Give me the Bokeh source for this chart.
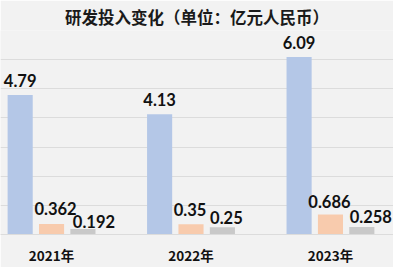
from bokeh.plotting import figure
from bokeh.models import Range1d, FixedTicker, ColumnDataSource
from bokeh.core.properties import value
from bokeh.embed import file_html
from bokeh.resources import INLINE

years = ["2021年", "2022年", "2023年"]
series_a = [4.79, 4.13, 6.09]
series_b = [0.362, 0.35, 0.686]
series_c = [0.192, 0.25, 0.258]
labels_a = ["4.79", "4.13", "6.09"]
labels_b = ["0.362", "0.35", "0.686"]
labels_c = ["0.192", "0.25", "0.258"]

colors = ["#B4C7E7", "#F8CBAD", "#C9C9C9"]
bg = "#F2F2F2"
grid = "#DCDCDC"

p = figure(width=393, height=267, output_backend="svg", toolbar_location=None,
           x_range=Range1d(-0.366, 2.452), y_range=Range1d(0, 7),
           min_border_left=0, min_border_right=0, min_border_top=30, min_border_bottom=29,
           background_fill_color=bg, border_fill_color=bg, outline_line_color=None)

p.title.text = "研发投入变化（单位：亿元人民币）"
p.title.align = "center"
p.title.text_font = "Noto Sans CJK SC"
p.title.text_font_size = "16.5px"
p.title.text_font_style = "bold"
p.title.text_color = "#1a1a1a"
p.title.offset = 0
p.title.standoff = 4

idx = list(range(len(years)))
offsets = [-0.225, 0.0, 0.225]
width = 0.18
label_dx = [[0, 0, 0], [4, -1, -1], [11, 4, 9]]
label_dy = [[-8, -8, -8], [-9, -8, -7], [-1, -3, -4]]

for k, (vals, labs) in enumerate([(series_a, labels_a), (series_b, labels_b), (series_c, labels_c)]):
    xs = [i + offsets[k] for i in idx]
    src = ColumnDataSource(dict(x=xs, top=vals, lab=labs, dx=label_dx[k], dy=label_dy[k]))
    p.vbar(x="x", top="top", width=width, bottom=0, source=src, fill_color=colors[k], line_color=None)
    p.text(x="x", y="top", text="lab", source=src, x_offset="dx", y_offset="dy",
           text_align="center", text_baseline="bottom", text_font=value("Lato"),
           text_font_style="bold", text_font_size="16.5px", text_color="#111111")

p.xaxis.ticker = FixedTicker(ticks=idx)
p.xaxis.major_label_overrides = {i: y for i, y in zip(idx, years)}
p.xaxis.major_label_text_font = "Noto Sans CJK SC"
p.xaxis.major_label_text_font_style = "bold"
p.xaxis.major_label_text_font_size = "13.5px"
p.xaxis.major_label_text_color = "#111111"
p.xaxis.major_tick_line_color = None
p.xaxis.minor_tick_line_color = None
p.xaxis.axis_line_color = grid
p.xaxis.major_label_standoff = 4
p.yaxis.visible = False
p.xgrid.grid_line_color = None
p.ygrid.ticker = FixedTicker(ticks=[0, 1, 2, 3, 4, 5, 6, 7])
p.ygrid.grid_line_color = grid

open("out.html", "w").write(file_html(p, INLINE))
